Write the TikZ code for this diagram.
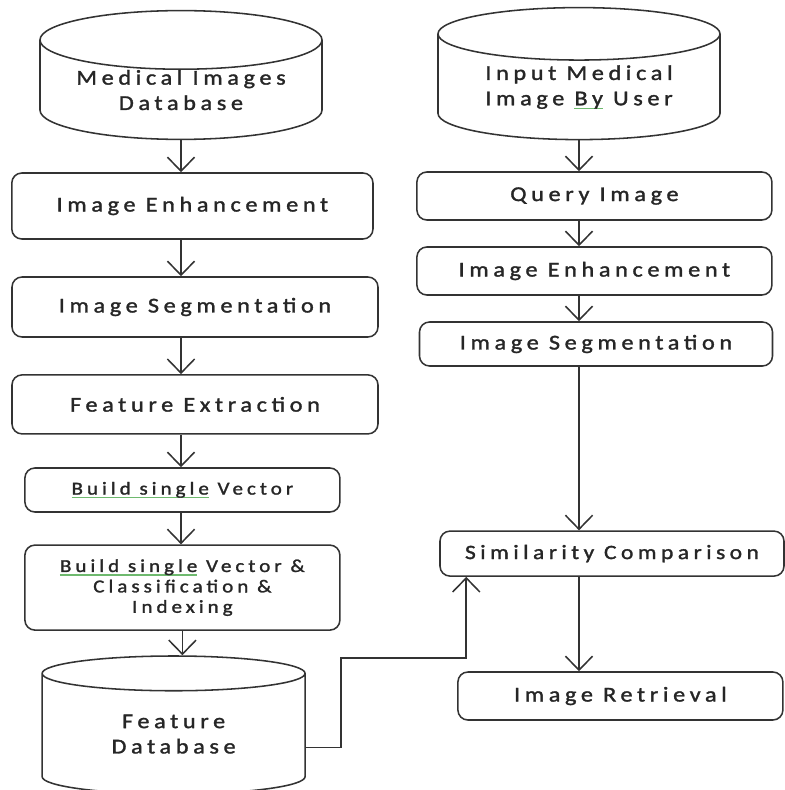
\documentclass[tikz,border=0pt]{standalone}
\usepackage{fontspec}
\setmainfont[LetterSpace=22,FakeStretch=1.15,FakeBold=1.5]{Carlito}
\usetikzlibrary{shapes.geometric,positioning,arrows.meta}
\definecolor{spell}{RGB}{110,185,110}
\newcommand\spellmark[1]{\setbox0\hbox{#1}\rlap{\color{spell}\rule[-2.5pt]{\wd0}{0.8pt}}\box0\relax}

\begin{document}
\begin{tikzpicture}[node distance=2cm,on grid,
    >={Straight Barb[length=0.35cm,width=0.68cm]},
    flow/.style={->,draw=black!80,line width=1.1pt},
    box/.style={rectangle,rounded corners=0.25cm,draw=black!80,line width=1.1pt,
        text=black!85,align=center,inner sep=0pt,font=\fontsize{15}{18}\selectfont},
    db/.style={cylinder,shape border rotate=90,aspect=0.28,draw=black!80,line width=1.1pt,
        text=black!85,align=center,inner sep=0pt,anchor=shape center,font=\fontsize{15}{18}\selectfont}]
       \useasboundingbox (0,0) rectangle (19.6,-19.75);
       % left column
       \node [db,minimum width=7.05cm,minimum height=3.2cm] (mid) at (4.525,-1.875) {Medical Images\\Database};
       \node [box,minimum width=9.03cm,minimum height=1.65cm] (enhL) at (4.81,-5.15) {Image Enhancement};
       \node [box,minimum width=9.15cm,minimum height=1.5cm,below=2.525 of enhL,xshift=0.065cm] (segL) {Image Segmentation};
       \node [box,minimum width=9.15cm,minimum height=1.475cm,below=2.435 of segL] (featL) {Feature Extraction};
       \node [box,minimum width=7.875cm,minimum height=1.1cm,below=2.14 of featL,xshift=-0.315cm,font=\fontsize{13}{15}\selectfont] (vec) {\spellmark{Build single} Vector};
       \node [box,minimum width=7.875cm,minimum height=2.125cm,below=2.44 of vec,font=\fontsize{13}{14.5}\selectfont] (cls) {\spellmark{Build single} Vector \&\\Classification \&\\Indexing};
       \node [db,minimum width=6.575cm,minimum height=3.45cm,below=3.435 of cls,xshift=-0.22cm,anchor=shape center] (fdb) {Feature\\Database};
       % right column
       \node [db,minimum width=7.05cm,minimum height=3.3cm] (inp) at (14.475,-1.84) {Input Medical\\Image \spellmark{By} User};
       \node [box,minimum width=8.875cm,minimum height=1.2cm] (qry) at (14.86,-4.9) {Query Image};
       \node [box,minimum width=8.875cm,minimum height=1.2cm,below=1.875 of qry] (enhR) {Image Enhancement};
       \node [box,minimum width=8.825cm,minimum height=1.1cm,below=1.825 of enhR,xshift=0.04cm] (segR) {Image Segmentation};
       \node [box,minimum width=8.6cm,minimum height=1.125cm,below=5.24 of segR,xshift=0.4cm,font=\fontsize{14.5}{17}\selectfont] (sim) {Similarity Comparison};
       \node [box,minimum width=8.125cm,minimum height=1.2cm,below=3.56 of sim,xshift=0.21cm] (ret) {Image Retrieval};
       \coordinate (jn) at ([xshift=0.675cm]sim.south west);
        \path[every edge/.style=flow]
        (mid.south) edge (mid.south |- enhL.north)
        (mid.south |- enhL.south) edge (mid.south |- segL.north)
        (mid.south |- segL.south) edge (mid.south |- featL.north)
        (mid.south |- featL.south) edge (mid.south |- vec.north)
        (mid.south |- vec.south) edge (mid.south |- cls.north)
        (cls.south) edge (cls.south |- fdb.north)
        (inp.south) edge (inp.south |- qry.north)
        (inp.south |- qry.south) edge (inp.south |- enhR.north)
        (inp.south |- enhR.south) edge (inp.south |- segR.north)
        (inp.south |- segR.south) edge (inp.south |- sim.north)
        (inp.south |- sim.south) edge (inp.south |- ret.north);
        \draw[flow] ([yshift=-0.33cm]fdb.east) -- ++(0.88,0) |- ([yshift=-2.025cm]jn) -- (jn);
    \end{tikzpicture}
\end{document}
